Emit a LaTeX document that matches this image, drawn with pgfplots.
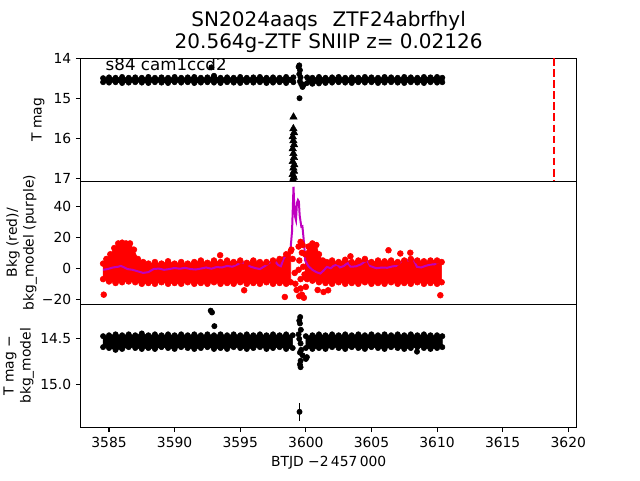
\documentclass[border=0pt]{standalone}
\usepackage{pgfplots}
\pgfplotsset{compat=1.18}
\usepackage{fontspec}
\setmainfont{DejaVu Sans}
\definecolor{mplm}{rgb}{0.75,0,0.75}
\newcommand{\fs}{\fontsize{10.4}{12.5}\selectfont}
\pgfplotsset{
 panel/.style={scale only axis, width=372pt, height=92.3pt, xmin=3582.84, xmax=3620.64, anchor=south west,
   axis line style={line width=0.8pt}, tick style={line width=0.8pt, black}, tick align=outside, major tick length=3.6pt,
   ytick pos=left, xtick pos=bottom, ticklabel style={font=\fs}, label style={font=\fs},
   /pgf/number format/assume math mode=true, /pgf/number format/1000 sep={}},
 blk/.style={black, fill=black, mark=*, mark size=2pt, line width=0.4pt},
 dots/.style={only marks, mark=*, mark size=2pt},
}
\begin{document}
\begin{tikzpicture}
\useasboundingbox (0,0) rectangle (480pt,360pt);
% ---------------- top panel ----------------
\begin{axis}[panel, at={(60.5pt,224.1pt)}, y dir=reverse, ymin=14, ymax=17.07, ytick={14,15,16,17}, xtick=\empty,
  ylabel={T mag}, ylabel style={at={(axis description cs:-0.086,0.5)}, anchor=center},
  title={SN2024aaqs\hspace{0.75em}ZTF24abrfhyl\\20.564g-ZTF SNIIP z= 0.02126},
  title style={align=center, font=\fontsize{15}{16.5}\selectfont, at={(axis description cs:0.5,1)}, anchor=south, yshift=-5.3pt}]
\addplot[blk] coordinates {
(3584.55,14.50)(3585.0,14.48)(3585.5,14.49)(3586.0,14.47)(3586.5,14.49)(3587.0,14.48)(3587.5,14.49)(3588.0,14.47)(3588.5,14.49)(3589.0,14.48)(3589.5,14.49)(3590.0,14.47)(3590.5,14.49)(3591.0,14.48)(3591.5,14.47)(3592.0,14.49)(3592.5,14.48)(3593.0,14.46)(3593.5,14.49)(3594.0,14.48)(3594.5,14.49)(3595.0,14.47)(3595.5,14.49)(3596.0,14.48)(3596.5,14.47)(3597.0,14.49)(3597.5,14.48)(3598.0,14.49)(3598.5,14.47)(3599.05,14.48)
(3599.05,14.60)(3598.5,14.62)(3598.0,14.60)(3597.5,14.61)(3597.0,14.62)(3596.5,14.60)(3596.0,14.61)(3595.5,14.60)(3595.0,14.62)(3594.5,14.61)(3594.0,14.60)(3593.5,14.62)(3593.0,14.61)(3592.5,14.60)(3592.0,14.61)(3591.5,14.62)(3591.0,14.60)(3590.5,14.61)(3590.0,14.60)(3589.5,14.62)(3589.0,14.61)(3588.5,14.60)(3588.0,14.62)(3587.5,14.61)(3587.0,14.60)(3586.5,14.61)(3586.0,14.62)(3585.5,14.60)(3585.0,14.61)(3584.55,14.60)
} -- cycle;
\addplot[blk] coordinates {
(3600.1,14.48)(3600.5,14.49)(3601.0,14.47)(3601.5,14.49)(3602.0,14.48)(3602.5,14.47)(3603.0,14.49)(3603.5,14.48)(3604.0,14.49)(3604.5,14.47)(3605.0,14.48)(3605.5,14.49)(3606.0,14.47)(3606.5,14.48)(3607.0,14.49)(3607.5,14.47)(3608.0,14.48)(3608.5,14.49)(3609.0,14.47)(3609.5,14.48)(3610.0,14.47)(3610.4,14.49)
(3610.4,14.60)(3610.0,14.61)(3609.5,14.60)(3609.0,14.62)(3608.5,14.61)(3608.0,14.60)(3607.5,14.62)(3607.0,14.61)(3606.5,14.60)(3606.0,14.61)(3605.5,14.62)(3605.0,14.60)(3604.5,14.61)(3604.0,14.60)(3603.5,14.62)(3603.0,14.61)(3602.5,14.60)(3602.0,14.61)(3601.5,14.62)(3601.0,14.63)(3600.5,14.64)(3600.1,14.62)
} -- cycle;
\addplot[black, dots] coordinates {
(3592.8,14.23)(3593.0,14.44)(3599.5,14.18)(3599.45,14.22)(3599.55,14.3)(3599.5,14.4)(3599.6,14.48)(3599.55,14.58)(3599.65,14.65)(3599.75,14.72)(3599.85,14.66)(3599.52,15.0)
};
\addplot[black, only marks, mark=triangle*, mark size=3.2pt] coordinates {
(3599.06,15.47)(3599.05,15.76)(3599.1,15.86)(3599.0,15.96)(3599.05,16.06)(3599.1,16.16)(3599.0,16.26)(3599.05,16.38)(3599.1,16.48)(3599.0,16.58)(3599.12,16.66)(3599.05,16.74)(3599.1,16.82)(3599.0,16.9)(3599.08,16.97)(3599.02,17.03)
};
\addplot[red, line width=1.56pt, dash pattern=on 5.8pt off 2.5pt] coordinates {(3618.92,14) (3618.92,17.07)};
\node[font=\fontsize{12.5}{15}\selectfont, anchor=base west, inner sep=0pt] at (axis description cs:0.05,0.9) {s84 cam1ccd2};
\end{axis}
% ---------------- middle panel ----------------
\begin{axis}[panel, at={(60.5pt,131.8pt)}, ymin=-23.2, ymax=56.1, ytick={-20,0,20,40}, yticklabels={−20,0,20,40}, xtick=\empty,
  ylabel={Bkg (red)/\\bkg\_model (purple)}, ylabel style={align=center, font=\fontsize{10.4}{12.7}\selectfont, at={(axis description cs:-0.119,0.5)}, anchor=center}]
\addplot[red, fill=red, mark=*, mark size=2.2pt, line width=0.4pt] coordinates {
(3584.55,3)(3584.8,6)(3585.1,9)(3585.4,13)(3585.7,16)(3586.0,16.5)(3586.3,16)(3586.6,16)(3586.9,12)(3587.2,6)(3587.6,4)(3588.0,3)(3588.5,4)(3589.0,3)(3589.5,4.5)(3590.0,3)(3590.5,4)(3591.0,3)(3591.5,4)(3592.0,5)(3592.5,3.5)(3593.0,5)(3593.5,4)(3594.0,5)(3594.5,4)(3595.0,5)(3595.5,3.5)(3596.0,5)(3596.5,4)(3597.0,4)(3597.5,5)(3598.0,6)(3598.5,9)(3598.85,11)
(3598.85,-9)(3598.5,-10)(3598.0,-9.5)(3597.5,-10)(3597.0,-9)(3596.5,-10)(3596.0,-9.5)(3595.5,-10)(3595.0,-9)(3594.5,-10)(3594.0,-9.5)(3593.5,-10)(3593.0,-9)(3592.5,-10)(3592.0,-9.5)(3591.5,-10)(3591.0,-9)(3590.5,-10)(3590.0,-9.5)(3589.5,-10)(3589.0,-9)(3588.5,-10)(3588.0,-9.5)(3587.5,-10)(3587.0,-9)(3586.5,-8.5)(3586.0,-9)(3585.5,-9.5)(3585.0,-8.5)(3584.55,-7)
} -- cycle;
\addplot[red, fill=red, mark=*, mark size=2.2pt, line width=0.4pt] coordinates {
(3599.95,9)(3600.2,14)(3600.5,16)(3600.8,15)(3601.0,9)(3601.3,5)(3601.6,4)(3602.0,5)(3602.5,4)(3603.0,5.5)(3603.5,4)(3604.0,5)(3604.5,6)(3605.0,4)(3605.5,5)(3606.0,4.5)(3606.5,5)(3607.0,4)(3607.5,5)(3608.0,6)(3608.5,5)(3609.0,4.5)(3609.5,5)(3610.0,5)(3610.35,4)
(3610.35,-9)(3610.0,-10)(3609.5,-9.5)(3609.0,-10)(3608.5,-9)(3608.0,-10)(3607.5,-9.5)(3607.0,-10)(3606.5,-9)(3606.0,-10)(3605.5,-9.5)(3605.0,-10)(3604.5,-9)(3604.0,-10)(3603.5,-9.5)(3603.0,-10)(3602.5,-9)(3602.0,-10)(3601.5,-9.5)(3601.0,-9)(3600.5,-8)(3600.1,-7)(3599.95,-6)
} -- cycle;
\addplot[red, only marks, mark=*, mark size=2.2pt] coordinates {
(3584.6,-17)(3593.47,8.4)(3595.3,-14.2)(3598.4,-18.5)(3598.9,12)(3599.0,6)(3599.15,-3)(3599.2,-10)(3599.3,-14)(3599.5,-18)(3599.6,-13)(3599.7,-17)(3599.85,-19)(3599.6,-7)(3599.45,-1)(3599.5,5)(3599.7,10)(3599.45,14)(3599.8,1)(3599.9,-4)(3600.0,-12)(3601.35,-15.3)(3601.7,-14.2)(3599.6,17)(3599.75,15)(3606.3,11.6)(3607.2,9.5)(3607.96,10)(3610.25,-17.4)(3603.4,7.7)(3600.9,-14)
};
\addplot[mplm, line width=1.5pt] coordinates {
(3584.55,-1.0)(3584.9,-0.5)(3585.3,0.5)(3585.7,1.0)(3585.9,1.5)(3586.1,0.8)(3586.4,-0.5)(3586.8,-1.0)(3587.2,-2.0)(3587.6,-3.0)(3588.0,-2.5)(3588.4,-0.5)(3588.8,-0.2)(3589.2,-1.0)(3589.6,-0.5)(3590.0,0.2)(3590.4,-0.3)(3590.8,0.3)(3591.2,-0.5)(3591.6,-0.8)(3592.0,-0.2)(3592.4,0.5)(3592.8,-0.3)(3593.2,0.8)(3593.6,0.5)(3594.0,1.5)(3594.4,1.0)(3594.8,2.5)(3595.1,4.0)(3595.4,3.0)(3595.8,1.0)(3596.2,0)(3596.5,-0.5)(3596.9,1.5)(3597.3,4.0)(3597.6,5.0)(3597.9,2.0)(3598.1,1.3)(3598.3,6)(3598.5,8.4)(3598.7,10)(3598.85,14)(3598.95,24)(3599.02,42)(3599.06,52.5)(3599.12,40)(3599.19,33)(3599.25,31)(3599.32,42)(3599.4,44)(3599.47,43)(3599.53,34)(3599.6,30)(3599.66,26.7)(3599.74,27)(3599.82,20)(3599.9,12)(3599.95,5)(3600.2,1.3)(3600.5,-1)(3600.8,-2.5)(3601.1,-3.4)(3601.35,-1.5)(3601.6,0.9)(3601.9,0)(3602.1,1.5)(3602.37,2.4)(3602.6,0.5)(3602.9,1.5)(3603.2,3.5)(3603.4,1)(3603.8,1.2)(3604.2,2.5)(3604.66,5.2)(3604.9,1.5)(3605.2,0.5)(3605.4,0)(3605.8,0.5)(3606.2,0.3)(3606.6,1.2)(3606.9,1.5)(3607.2,4.0)(3607.45,5.2)(3607.8,5.0)(3608.2,5.8)(3608.47,0.9)(3608.8,0.5)(3609.1,1.5)(3609.5,2.4)(3609.8,2.5)(3610.1,4.0)(3610.4,3.5)
};
\end{axis}
% ---------------- bottom panel ----------------
\begin{axis}[panel, at={(60.5pt,39.5pt)}, y dir=reverse, ymin=14.12, ymax=15.47, ytick={14.5,15}, yticklabels={14.5,15.0},
  xtick={3585,3590,...,3620},
  ylabel={T mag −\\bkg\_model}, ylabel style={align=center, font=\fontsize{10.4}{12.7}\selectfont, at={(axis description cs:-0.125,0.5)}, anchor=center},
  xlabel={BTJD −2\,457\,000}, xlabel style={at={(axis description cs:0.5,-0.288)}, anchor=center}]
\addplot[blk] coordinates {
(3584.55,14.47)(3585.0,14.46)(3585.5,14.45)(3586.0,14.46)(3586.5,14.45)(3587.0,14.46)(3587.5,14.44)(3588.0,14.46)(3588.5,14.45)(3589.0,14.46)(3589.5,14.45)(3590.0,14.46)(3590.5,14.45)(3591.0,14.46)(3591.5,14.45)(3592.0,14.46)(3592.5,14.45)(3593.0,14.46)(3593.5,14.45)(3594.0,14.46)(3594.5,14.45)(3595.0,14.46)(3595.5,14.45)(3596.0,14.46)(3596.5,14.45)(3597.0,14.46)(3597.5,14.45)(3598.0,14.46)(3598.5,14.45)(3599.0,14.46)
(3599.0,14.60)(3598.5,14.61)(3598.0,14.59)(3597.5,14.60)(3597.0,14.61)(3596.5,14.59)(3596.0,14.60)(3595.5,14.61)(3595.0,14.60)(3594.5,14.59)(3594.0,14.61)(3593.5,14.60)(3593.0,14.61)(3592.5,14.59)(3592.0,14.60)(3591.5,14.61)(3591.0,14.60)(3590.5,14.59)(3590.0,14.61)(3589.5,14.60)(3589.0,14.59)(3588.5,14.61)(3588.0,14.60)(3587.5,14.61)(3587.0,14.60)(3586.5,14.59)(3586.0,14.61)(3585.5,14.62)(3585.0,14.60)(3584.55,14.59)
} -- cycle;
\addplot[blk] coordinates {
(3600.0,14.47)(3600.5,14.46)(3601.0,14.45)(3601.5,14.46)(3602.0,14.45)(3602.5,14.46)(3603.0,14.45)(3603.5,14.46)(3604.0,14.45)(3604.5,14.46)(3605.0,14.45)(3605.5,14.46)(3606.0,14.45)(3606.5,14.46)(3607.0,14.45)(3607.5,14.46)(3608.0,14.45)(3608.5,14.46)(3609.0,14.45)(3609.5,14.46)(3610.0,14.46)(3610.4,14.47)
(3610.4,14.59)(3610.0,14.60)(3609.5,14.61)(3609.0,14.60)(3608.5,14.59)(3608.0,14.60)(3607.5,14.61)(3607.0,14.60)(3606.5,14.59)(3606.0,14.61)(3605.5,14.60)(3605.0,14.59)(3604.5,14.61)(3604.0,14.60)(3603.5,14.59)(3603.0,14.61)(3602.5,14.60)(3602.0,14.59)(3601.5,14.61)(3601.0,14.60)(3600.5,14.61)(3600.0,14.60)
} -- cycle;
\addplot[black, dots] coordinates {
(3592.75,14.19)(3592.85,14.21)(3593.03,14.36)(3608.47,14.64)
(3599.57,14.26)(3599.5,14.30)(3599.55,14.33)(3599.62,14.40)(3599.45,14.45)(3599.5,14.5)(3599.6,14.55)(3599.65,14.62)(3599.55,14.65)(3599.75,14.68)(3600.0,14.72)(3600.08,14.70)(3599.6,14.74)(3599.55,14.78)
};
\addplot[black, only marks, mark=*, mark size=2pt, error bars/.cd, y dir=both, y explicit, error mark=none, error bar style={line width=1.2pt}] coordinates {
(3599.6,14.81) +- (0,0.03)
(3599.52,15.30) +- (0,0.1)
};
\end{axis}
\end{tikzpicture}
\end{document}
